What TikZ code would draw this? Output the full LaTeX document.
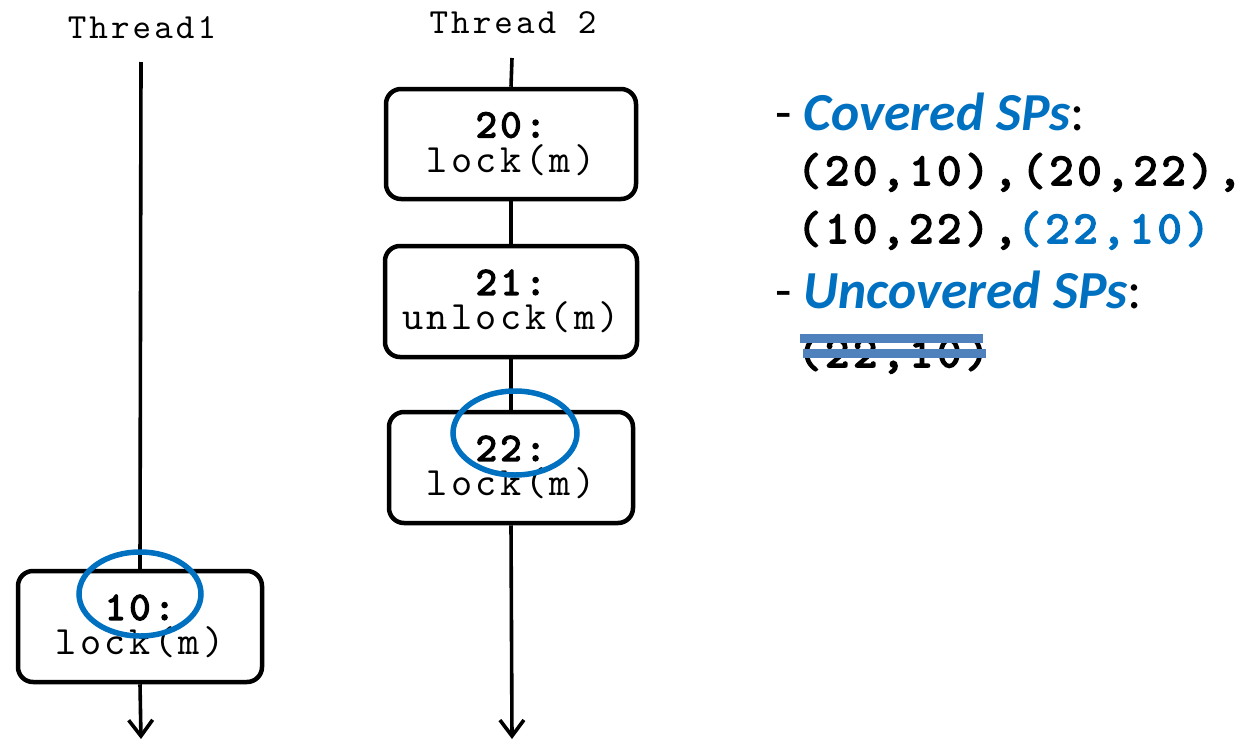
\documentclass[tikz,border=0pt]{standalone}
\usepackage{fontspec}
\newfontfamily\courfont[LetterSpace=8.7]{lmmono10-regular.otf}
\newfontfamily\courbold[LetterSpace=8.7,FakeBold=3.5]{lmmono10-regular.otf}
\newfontfamily\calfont{Carlito}
\usetikzlibrary{arrows.meta,shapes.geometric}
\definecolor{hlblue}{RGB}{0,112,192}
\definecolor{barblue}{RGB}{79,129,189}
\begin{document}
\begin{tikzpicture}[x=1pt,y=-1pt,
  stmt/.style={draw=black,line width=4.5pt,rounded corners=15pt,fill=white,align=center,
    font=\courfont\fontsize{40.2}{35}\selectfont,inner sep=0pt},
  flow/.style={line width=3.6pt,draw=black},
  arr/.style={flow,-{Straight Barb[length=16pt,width=24pt,line width=3.6pt]}},
  hlring/.style={draw=hlblue,line width=5.5pt,ellipse,inner sep=0pt},
  lbl/.style={font=\courfont\fontsize{35.3}{34}\selectfont,inner sep=0pt,anchor=base},
  txt/.style={inner sep=0pt,anchor=base west},
  cal/.style={font=\calfont\fontsize{53.5}{54}\selectfont},
  mono/.style={font=\courbold\fontsize{45.8}{44}\selectfont}
]
\useasboundingbox (0,0) rectangle (1255,739);
% thread labels
\node[lbl] (th1) at (142,38) {Thread1};
\node[lbl] (th2) at (513,33) {Thread 2};
% thread 1
\coordinate (t1top) at (141,62);
\coordinate (t1end) at (141,739);
\node[stmt,minimum width=244pt,minimum height=111pt] (b10) at (140,626.5) {{\courbold 10:}\\lock(m)};
\draw[flow] (t1top) -- (b10.north);
\draw[arr] (b10.south) -- (t1end);
% thread 2
\coordinate (t2top) at (512,58);
\coordinate (t2end) at (512,739);
\node[stmt,minimum width=250pt,minimum height=110pt] (b20) at (511,144) {{\courbold 20:}\\lock(m)};
\node[stmt,minimum width=252pt,minimum height=111pt] (b21) at (511,301.5) {{\courbold 21:}\\unlock(m)};
\node[stmt,minimum width=244pt,minimum height=111pt] (b22) at (511,467.5) {{\courbold 22:}\\lock(m)};
\draw[flow] (t2top) -- (b20.north);
\draw[flow] (b20.south) -- (b21.north);
\draw[flow] (b21.south) -- (b22.north);
\draw[arr] (b22.south) -- (t2end);
% highlight ellipses
\node[hlring,minimum width=124pt,minimum height=84pt] (e22) at (515,433) {};
\node[hlring,minimum width=122pt,minimum height=84pt] (e10) at (140,594) {};
% right-hand text
\node[txt,cal] (cov) at (775,130) {- \textcolor{hlblue}{\textbf{\textit{Covered SPs}}}:};
\node[txt,mono] (l1) at (797,185) {(20,10),(20,22),};
\node[txt,mono] (l2) at (797,243) {(10,22),\textcolor{hlblue}{(22,10)}};
\node[txt,cal] (unc) at (775,308) {- \textcolor{hlblue}{\textbf{\textit{Uncovered SPs}}}:};
\node[txt,mono] (l3) at (797,367) {(22,10)};
\fill[barblue] (800,334) rectangle (983,343);
\fill[barblue] (803,349) rectangle (986,358);
\end{tikzpicture}
\end{document}
